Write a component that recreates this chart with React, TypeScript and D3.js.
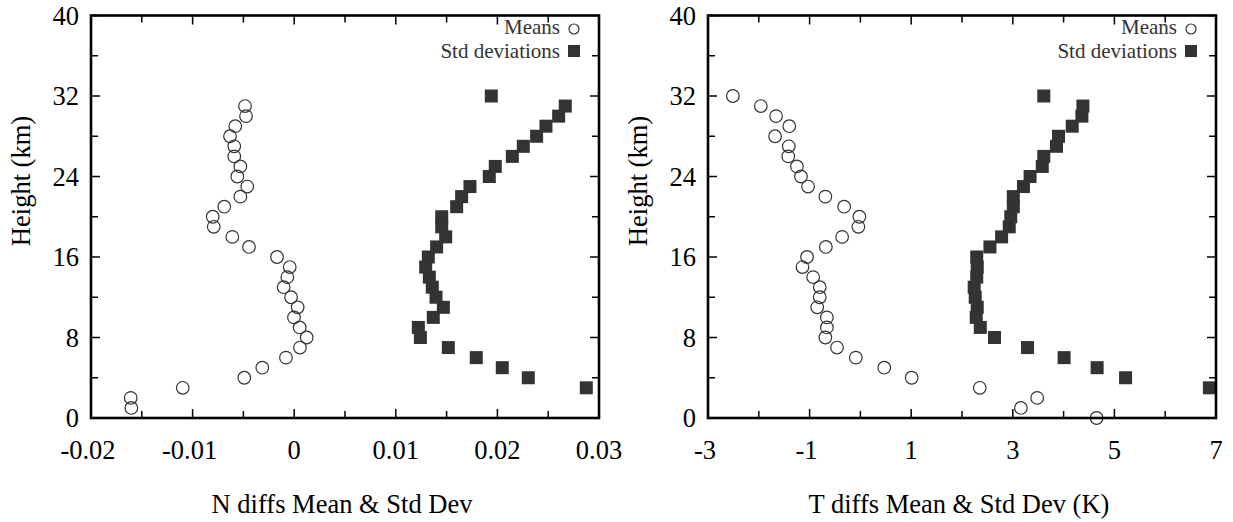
import React from 'react';
import * as d3 from 'd3';

// heights (km) for each series
const nMeanHeights = [1, 2, 3, 4, 5, 6, 7, 8, 9, 10, 11, 12, 13, 14, 15, 16, 17, 18, 19, 20, 21, 22, 23, 24, 25, 26, 27, 28, 29, 30, 31];
const nMeans = [-0.01603, -0.01609, -0.01097, -0.00491, -0.00314, -0.00081, 0.00057, 0.00123, 0.00054, -0.00002, 0.00034, -0.00031, -0.00104, -0.00068, -0.00044, -0.00169, -0.00445, -0.00609, -0.00792, -0.00802, -0.00688, -0.0053, -0.00462, -0.0056, -0.0053, -0.0059, -0.0059, -0.00632, -0.0058, -0.00474, -0.00484];

const stdHeights = [3, 4, 5, 6, 7, 8, 9, 10, 11, 12, 13, 14, 15, 16, 17, 18, 19, 20, 21, 22, 23, 24, 25, 26, 27, 28, 29, 30, 31, 32];
const nStds = [0.02875, 0.02304, 0.02048, 0.01792, 0.01517, 0.01242, 0.01222, 0.01369, 0.01468, 0.01396, 0.01359, 0.0133, 0.01294, 0.0132, 0.01402, 0.01491, 0.01452, 0.01452, 0.01599, 0.01648, 0.0173, 0.0192, 0.01979, 0.02147, 0.02255, 0.02386, 0.02478, 0.02603, 0.02668, 0.0194];

const tMeanHeights = [0, 1, 2, 3, 4, 5, 6, 7, 8, 9, 10, 11, 12, 13, 14, 15, 16, 17, 18, 19, 20, 21, 22, 23, 24, 25, 26, 27, 28, 29, 30, 31, 32];
const tMeans = [4.65, 3.16, 3.48, 2.35, 1.01, 0.47, -0.09, -0.46, -0.69, -0.66, -0.66, -0.85, -0.8, -0.8, -0.93, -1.14, -1.05, -0.68, -0.36, -0.04, -0.02, -0.32, -0.69, -1.03, -1.17, -1.25, -1.42, -1.41, -1.68, -1.4, -1.66, -1.96, -2.51];
const tStds = [6.87, 5.22, 4.66, 4.01, 3.29, 2.64, 2.36, 2.28, 2.3, 2.26, 2.24, 2.29, 2.3, 2.29, 2.55, 2.78, 2.93, 2.96, 3.01, 3.01, 3.21, 3.34, 3.58, 3.61, 3.86, 3.9, 4.17, 4.36, 4.38, 3.61];

const yMajorTicks = [0, 8, 16, 24, 32, 40];
const yMinorTicks = [4, 12, 20, 28, 36];
const nXMajorTicks = [-0.02, -0.01, 0, 0.01, 0.02, 0.03];
const nXLabels = ['-0.02', '-0.01', '0', '0.01', '0.02', '0.03'];
const nXMinorTicks = [-0.015, -0.005, 0.005, 0.015, 0.025];
const tXMajorTicks = [-3, -1, 1, 3, 5, 7];
const tXLabels = ['-3', '-1', '1', '3', '5', '7'];
const tXMinorTicks = [-2, 0, 2, 4, 6];
const legendNames = ['Means', 'Std deviations'];

const FONT = '"Liberation Serif", "Times New Roman", serif';
const MARK = '#333';
const FS = 26.5;

type PanelProps = {
  left: number;
  right: number;
  domain: [number, number];
  majors: number[];
  labels: string[];
  minors: number[];
  meanH: number[];
  means: number[];
  stdH: number[];
  stds: number[];
  title: string;
};

function Panel(p: PanelProps) {
  const top = 15.5;
  const bottom = 418;
  const x = d3.scaleLinear().domain(p.domain).range([p.left, p.right]);
  const y = d3.scaleLinear().domain([0, 40]).range([bottom, top]);
  const big = 9;
  const small = 7;

  return (
    <g>
      {/* ticks, all inward and mirrored */}
      {p.majors.map((t, i) => (
        <g key={'xm' + i} stroke="#000" strokeWidth={1.5}>
          <line x1={x(t)} x2={x(t)} y1={bottom} y2={bottom - big} />
          <line x1={x(t)} x2={x(t)} y1={top} y2={top + big} />
        </g>
      ))}
      {p.minors.map((t, i) => (
        <g key={'xn' + i} stroke="#000" strokeWidth={1.5}>
          <line x1={x(t)} x2={x(t)} y1={bottom} y2={bottom - small} />
          <line x1={x(t)} x2={x(t)} y1={top} y2={top + small} />
        </g>
      ))}
      {yMajorTicks.map((t, i) => (
        <g key={'ym' + i} stroke="#000" strokeWidth={1.5}>
          <line x1={p.left} x2={p.left + big} y1={y(t)} y2={y(t)} />
          <line x1={p.right} x2={p.right - big} y1={y(t)} y2={y(t)} />
        </g>
      ))}
      {yMinorTicks.map((t, i) => (
        <g key={'yn' + i} stroke="#000" strokeWidth={1.5}>
          <line x1={p.left} x2={p.left + small} y1={y(t)} y2={y(t)} />
          <line x1={p.right} x2={p.right - small} y1={y(t)} y2={y(t)} />
        </g>
      ))}

      {/* tick labels */}
      {p.majors.map((t, i) => (
        <text key={'xl' + i} x={x(t) - (t < 0 ? 3 : 0)} y={459} textAnchor="middle" fontFamily={FONT} fontSize={FS}>
          {p.labels[i]}
        </text>
      ))}
      {yMajorTicks.map((t, i) => (
        <text key={'yl' + i} x={p.left - 12} y={y(t)} dy="0.34em" textAnchor="end" fontFamily={FONT} fontSize={FS}>
          {t}
        </text>
      ))}

      {/* axis titles */}
      <text x={(p.left + p.right) / 2 - 3} y={513} textAnchor="middle" fontFamily={FONT} fontSize={FS}>
        {p.title}
      </text>
      <text
        transform={`translate(${p.left - 61},181) rotate(-90)`}
        textAnchor="middle"
        fontFamily={FONT}
        fontSize={FS}
      >
        Height (km)
      </text>

      {/* data */}
      {p.stds.map((v, i) => (
        <rect key={'s' + i} x={x(v) - 6.5} y={y(p.stdH[i]) - 6.5} width={13} height={13} fill={MARK} />
      ))}
      {p.means.map((v, i) => (
        <circle key={'m' + i} cx={x(v)} cy={y(p.meanH[i])} r={6.3} fill="none" stroke={MARK} strokeWidth={1.2} />
      ))}

      {/* frame */}
      <rect x={p.left} y={top} width={p.right - p.left} height={bottom - top} fill="none" stroke="#000" strokeWidth={2.6} />

      {/* legend */}
      <text x={p.right - 39} y={34} textAnchor="end" fontFamily={FONT} fontSize={21} fill={MARK}>
        {legendNames[0]}
      </text>
      <text x={p.right - 39} y={57.5} textAnchor="end" fontFamily={FONT} fontSize={21} fill={MARK}>
        {legendNames[1]}
      </text>
      <circle cx={p.right - 25} cy={29} r={5} fill="none" stroke={MARK} strokeWidth={1.2} />
      <rect x={p.right - 31} y={45} width={12} height={12} fill={MARK} />
    </g>
  );
}

export default function App() {
  return (
    <svg width={1233} height={522} style={{ position: 'absolute', left: 0, top: 0, background: '#fff' }}>
      <Panel
        left={91}
        right={599}
        domain={[-0.02, 0.03]}
        majors={nXMajorTicks}
        labels={nXLabels}
        minors={nXMinorTicks}
        meanH={nMeanHeights}
        means={nMeans}
        stdH={stdHeights}
        stds={nStds}
        title="N diffs Mean & Std Dev"
      />
      <Panel
        left={708}
        right={1216}
        domain={[-3, 7]}
        majors={tXMajorTicks}
        labels={tXLabels}
        minors={tXMinorTicks}
        meanH={tMeanHeights}
        means={tMeans}
        stdH={stdHeights}
        stds={tStds}
        title="T diffs Mean & Std Dev (K)"
      />
    </svg>
  );
}
